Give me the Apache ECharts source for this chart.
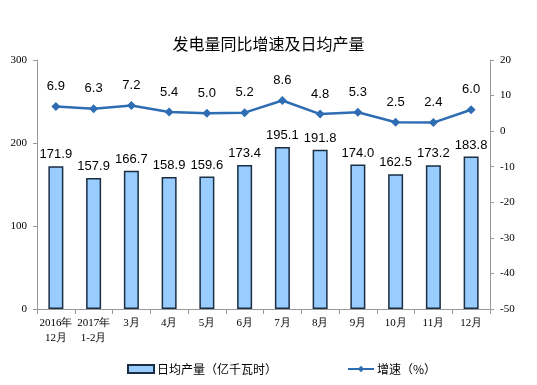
<!DOCTYPE html>
<html><head><meta charset="utf-8">
<script src="https://cdn.jsdelivr.net/npm/echarts@6/dist/echarts.min.js"></script>
<style>html,body{margin:0;padding:0;background:#fff}#c{width:537px;height:385px}</style>
</head><body><div id="c"></div>
<script>
const categories = ['2016年\n12月','2017年\n1-2月','3月','4月','5月','6月','7月','8月','9月','10月','11月','12月'];
const dailyOutput = [171.9,157.9,166.7,158.9,159.6,173.4,195.1,191.8,174.0,162.5,173.2,183.8];
const growth = [6.9,6.3,7.2,5.4,5.0,5.2,8.6,4.8,5.3,2.5,2.4,6.0];
const leftTicks = [0,100,200,300];
const rightTicks = [-50,-40,-30,-20,-10,0,10,20];

const chart = echarts.init(document.getElementById('c'));
const serif = 'Liberation Serif, DejaVu Serif, serif';
chart.setOption({
  animation:false,
  title:{text:'发电量同比增速及日均产量',left:'center',top:31,textStyle:{fontFamily:'Noto Sans CJK SC',fontSize:16,fontWeight:'normal',color:'#000'}},
  grid:{left:37,right:47,top:60,bottom:76},
  legend:{left:122,top:358,itemGap:70,itemWidth:26,itemHeight:8,textStyle:{fontFamily:'Noto Sans CJK SC',fontSize:12,color:'#000',padding:[0,0,0,-2]},
    data:[{name:'日均产量（亿千瓦时）',icon:'rect'},{name:'增速（%）'}]},
  xAxis:{type:'category',data:categories,
    axisLine:{lineStyle:{color:'#999'}},axisTick:{show:true,lineStyle:{color:'#999'}},
    axisLabel:{fontFamily:serif,fontSize:11,color:'#000',interval:0,lineHeight:15,margin:7}},
  yAxis:[
    {type:'value',min:0,max:300,interval:100,splitLine:{show:false},
      axisLine:{show:true,lineStyle:{color:'#999'}},axisTick:{show:true,length:4,lineStyle:{color:'#999'}},
      axisLabel:{fontFamily:serif,fontSize:11,color:'#000',margin:10}},
    {type:'value',min:-50,max:20,interval:10,splitLine:{show:false},position:'right',
      axisLine:{show:true,lineStyle:{color:'#999'}},axisTick:{show:true,length:4,lineStyle:{color:'#999'}},
      axisLabel:{fontFamily:serif,fontSize:11,color:'#000',margin:10}}
  ],
  series:[
    {name:'日均产量（亿千瓦时）',type:'bar',data:dailyOutput,barWidth:15,yAxisIndex:0,
      itemStyle:{color:'#99CCFF',borderColor:'#1A2E44',borderWidth:1.5},
      label:{show:true,position:'top',distance:5,fontFamily:'Liberation Sans, Arial',fontSize:13,color:'#000',formatter:p=>p.value.toFixed(1)}},
    {name:'增速（%）',type:'line',data:growth,yAxisIndex:1,symbol:'diamond',symbolSize:9,
      lineStyle:{color:'#2E6DB4',width:2.5},itemStyle:{color:'#2E6DB4'},
      label:{show:true,position:'top',distance:9,fontFamily:'Liberation Sans, Arial',fontSize:13,color:'#000',formatter:p=>p.value.toFixed(1)}}
  ]
});
</script></body></html>
